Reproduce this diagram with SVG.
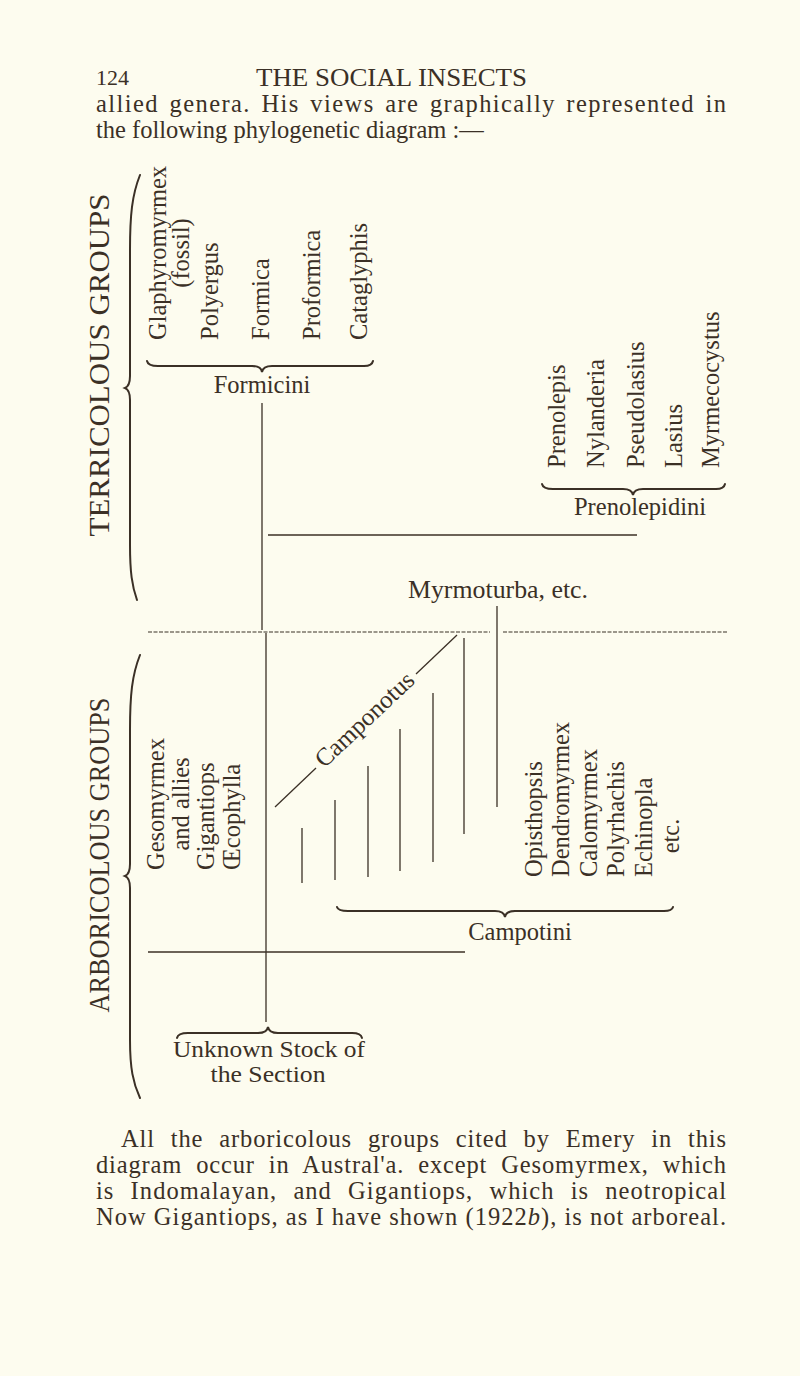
<svg xmlns="http://www.w3.org/2000/svg" width="800" height="1376" viewBox="0 0 800 1376">
<style>
.t{font-family:"Liberation Serif","Times New Roman",serif;fill:#3b3026}
.v{font-size:24.5px}
.b{font-size:24.5px}
.ln{stroke:#3b3026;stroke-width:1.3;fill:none}
.dl{stroke:#3b3026;stroke-width:1.1;stroke-dasharray:4 1.5;fill:none}
.br{stroke:#3b3026;stroke-width:2;fill:none;stroke-linecap:round}
</style>
<rect width="800" height="1376" fill="#fdfcef"/>
<g id="header">
<text class="t" x="96" y="85" font-size="22">124</text>
<text class="t" x="256" y="86" font-size="25" textLength="271" lengthAdjust="spacingAndGlyphs">THE SOCIAL INSECTS</text>
<text class="t b" x="96" y="112" word-spacing="3" textLength="630" lengthAdjust="spacing">allied genera.   His views are graphically represented in</text>
<text class="t b" x="96" y="138">the following phylogenetic diagram :—</text>
</g>
<g id="connectors">
<path class="br" d="M140,175 C132,195 130,215 130,250 L130,376 Q130,386 125,388 Q130,390 130,400 L130,545 C130,572 132,586 137,600"/>
<path class="br" d="M140,655 C132,675 130,695 130,730 L130,864 Q130,874 125,876 Q130,878 130,888 L130,1040 C130,1068 133,1083 140,1098"/>
<path class="br" d="M147,361 Q148,366 158,366 L252,366 Q261,366 262,372 Q263,366 272,366 L364,366 Q372,366 373,361"/>
<path class="br" d="M542,484 Q543,489 553,489 L623,489 Q632,489 633,495 Q634,489 643,489 L716,489 Q724,489 725,484"/>
<path class="br" d="M337,907 Q338,911 348,911 L495,911 Q504,911 505,917 Q506,911 515,911 L664,911 Q672,911 673,907"/>
<path class="br" d="M177,1038 Q178,1033 188,1033 L258,1033 Q267,1033 268,1027 Q269,1033 278,1033 L352,1033 Q361,1033 362,1038"/>
<line class="ln" x1="262" y1="403" x2="262" y2="630"/>
<line class="ln" x1="268" y1="535" x2="637" y2="535"/>
<line class="ln" x1="497" y1="606" x2="497" y2="807"/>
<line class="dl" x1="148" y1="632" x2="490" y2="632"/>
<line class="dl" x1="503" y1="632" x2="727" y2="632"/>
<line class="ln" x1="266" y1="633" x2="266" y2="1022"/>
<line class="ln" x1="275" y1="807" x2="316" y2="768"/>
<line class="ln" x1="416" y1="674" x2="457" y2="635"/>
<line class="ln" x1="302" y1="828" x2="302" y2="883"/>
<line class="ln" x1="335" y1="800" x2="335" y2="880"/>
<line class="ln" x1="368" y1="766" x2="368" y2="877"/>
<line class="ln" x1="400" y1="729" x2="400" y2="871"/>
<line class="ln" x1="433" y1="693" x2="433" y2="862"/>
<line class="ln" x1="464" y1="638" x2="464" y2="834"/>
<line class="ln" x1="148" y1="952" x2="465" y2="952"/>
</g>
<g id="terricolous-groups">
<text class="t" font-size="30" text-anchor="middle" textLength="343" lengthAdjust="spacingAndGlyphs" transform="translate(109,365) rotate(-90)">TERRICOLOUS GROUPS</text>
</g>
<g id="formicini-genera" class="t v">
<text text-anchor="middle" transform="translate(166,253) rotate(-90)">Glaphyromyrmex</text>
<text text-anchor="middle" transform="translate(189,253) rotate(-90)">(fossil)</text>
<text transform="translate(218,340) rotate(-90)">Polyergus</text>
<text transform="translate(269,340) rotate(-90)">Formica</text>
<text transform="translate(320,340) rotate(-90)">Proformica</text>
<text transform="translate(367,340) rotate(-90)">Cataglyphis</text>
</g>
<g id="formicini">
<text class="t v" x="262" y="393" text-anchor="middle">Formicini</text>
</g>
<g id="prenolepidini-genera" class="t v">
<text transform="translate(565,468) rotate(-90)">Prenolepis</text>
<text transform="translate(604,468) rotate(-90)">Nylanderia</text>
<text transform="translate(644,468) rotate(-90)">Pseudolasius</text>
<text transform="translate(682,468) rotate(-90)">Lasius</text>
<text transform="translate(719,468) rotate(-90)">Myrmecocystus</text>
</g>
<g id="prenolepidini">
<text class="t v" x="640" y="515" text-anchor="middle">Prenolepidini</text>
</g>
<g id="myrmoturba">
<text class="t" x="408" y="598" font-size="25" textLength="180" lengthAdjust="spacingAndGlyphs">Myrmoturba, etc.</text>
</g>
<g id="camponotus">
<text class="t" font-size="25" text-anchor="middle" transform="translate(366,721) rotate(-43.4)" dy="6">Camponotus</text>
</g>
<g id="arboricolous-groups">
<text class="t" font-size="30" text-anchor="middle" textLength="315" lengthAdjust="spacingAndGlyphs" transform="translate(109,855) rotate(-90)">ARBORICOLOUS GROUPS</text>
</g>
<g id="arboricolous-genera" class="t v">
<text text-anchor="middle" transform="translate(164,804) rotate(-90)">Gesomyrmex</text>
<text text-anchor="middle" transform="translate(189,804) rotate(-90)">and allies</text>
<text transform="translate(214,870) rotate(-90)">Gigantiops</text>
<text transform="translate(240,870) rotate(-90)">Œcophylla</text>
</g>
<g id="campotini-genera" class="t v">
<text transform="translate(542,877) rotate(-90)">Opisthopsis</text>
<text transform="translate(569,877) rotate(-90)">Dendromyrmex</text>
<text transform="translate(597,877) rotate(-90)">Calomyrmex</text>
<text transform="translate(624,877) rotate(-90)">Polyrhachis</text>
<text transform="translate(652,877) rotate(-90)">Echinopla</text>
<text text-anchor="middle" transform="translate(679,836) rotate(-90)">etc.</text>
</g>
<g id="campotini">
<text class="t v" x="520" y="940" text-anchor="middle">Campotini</text>
</g>
<g id="unknown-stock">
<text class="t" x="269" y="1057" font-size="24" text-anchor="middle" textLength="192" lengthAdjust="spacingAndGlyphs">Unknown Stock of</text>
<text class="t" x="268" y="1082" font-size="24" text-anchor="middle" textLength="115" lengthAdjust="spacingAndGlyphs">the Section</text>
</g>
<g id="footer" class="t b">
<text x="121" y="1147" word-spacing="9" textLength="605" lengthAdjust="spacing">All the arboricolous groups cited by Emery in this</text>
<text x="96" y="1173" word-spacing="7" textLength="630" lengthAdjust="spacing">diagram occur in Austral'a. except Gesomyrmex, which</text>
<text x="96" y="1199" word-spacing="9" textLength="630" lengthAdjust="spacing">is Indomalayan, and Gigantiops, which is neotropical</text>
<text x="96" y="1225" textLength="630" lengthAdjust="spacing">Now Gigantiops, as I have shown (1922<tspan font-style="italic">b</tspan>), is not arboreal.</text>
</g>
</svg>
